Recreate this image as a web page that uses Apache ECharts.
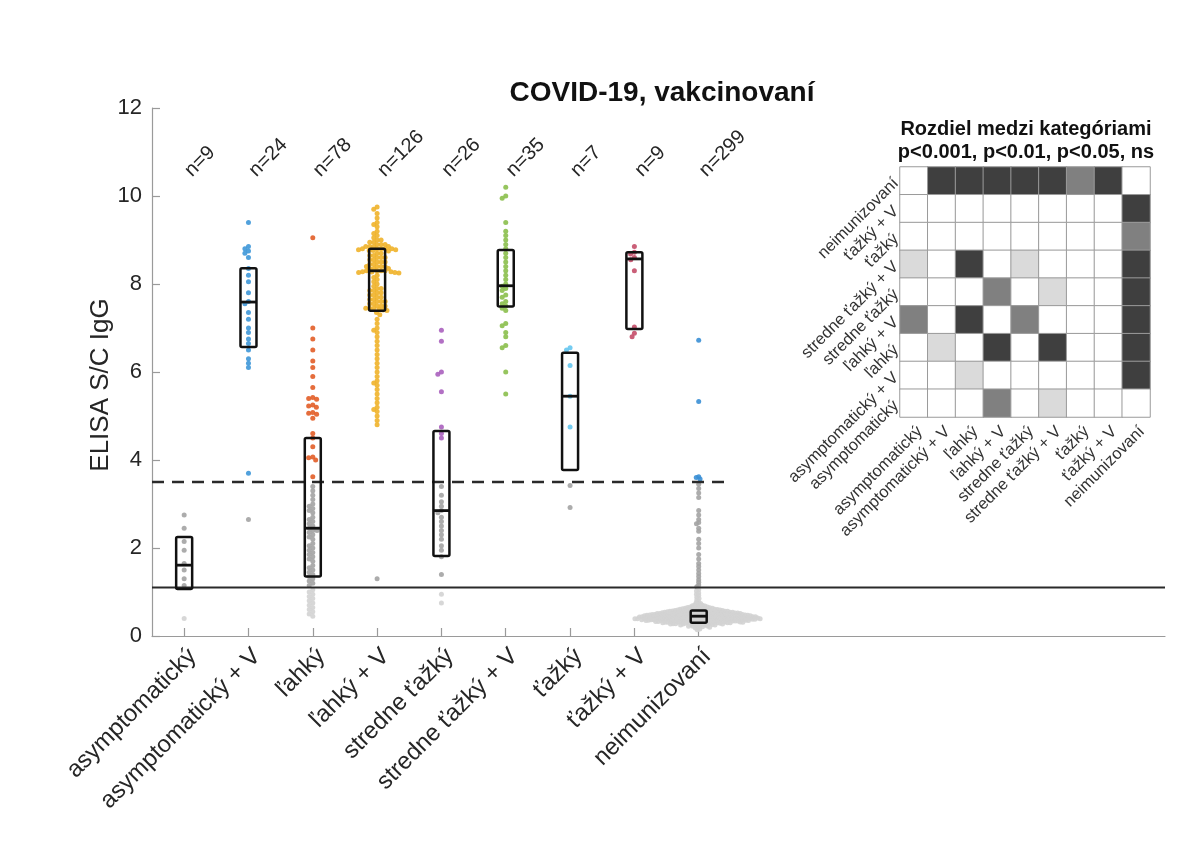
<!DOCTYPE html>
<html><head><meta charset="utf-8">
<script src="https://cdn.jsdelivr.net/npm/echarts@6/dist/echarts.min.js"></script>
<style>html,body{margin:0;padding:0;background:#fff}#c{width:1200px;height:850px}</style>
</head><body><div id="c"></div>
<script>
// ---------------- DATA ----------------
const categories = ['asymptomatický','asymptomatický + V','ľahký','ľahký + V','stredne ťažký','stredne ťažký + V','ťažký','ťažký + V','neimunizovaní'];
const nLabels = ['n=9','n=24','n=78','n=126','n=26','n=35','n=7','n=9','n=299'];
const yTicks = [0, 2, 4, 6, 8, 10, 12];
const cutoffHigh = 3.5;
const cutoffLow = 1.1;

const valsAsym = [2.75, 2.45, 2.15, 1.95, 1.65, 1.5, 1.3, 1.15, 0.4];
const valsAsymV = [9.4, 8.85, 8.8, 8.75, 8.7, 8.6, 8.35, 8.2, 8.05, 7.8, 7.6, 7.55, 7.35, 7.2, 7.0, 6.9, 6.75, 6.65, 6.5, 6.3, 6.2, 6.1, 3.7, 2.65];
const valsMild = [9.05, 7.0, 6.75, 6.5, 6.25, 6.1, 5.9, 5.65, 5.42, 5.4, 5.38, 5.25, 5.23, 5.2, 5.08, 5.06, 5.04, 4.95, 4.6, 4.5, 4.3, 4.07, 4.05, 4.0, 3.62,
  3.4, 3.3, 3.2, 3.1, 3.0, 2.95, 2.9, 2.85, 2.8, 2.7, 2.65, 2.6, 2.55, 2.5, 2.45, 2.4, 2.4, 2.35, 2.3, 2.25,
  2.2, 2.1, 2.05, 2.0, 1.95, 1.9, 1.85, 1.8, 1.75, 1.7, 1.6, 1.55, 1.5, 1.45, 1.4, 1.35, 1.3, 1.25, 1.2, 1.15,
  1.05, 1.0, 0.95, 0.9, 0.85, 0.8, 0.75, 0.7, 0.65, 0.6, 0.55, 0.5, 0.45];
const valsMildV = [9.75, 9.7, 9.6, 9.5, 9.4, 9.35, 9.3, 9.2, 9.15, 9.1, 9.05, 9.0, 9.0, 8.95, 8.95, 8.9, 8.9, 8.9, 8.85, 8.85, 8.85, 8.85, 8.8, 8.8, 8.8, 8.8, 8.8, 8.78, 8.78, 8.76, 8.76,
  8.75, 8.7, 8.7, 8.65, 8.65, 8.6, 8.6, 8.6, 8.55, 8.55, 8.5, 8.5, 8.5, 8.45, 8.45, 8.4, 8.4, 8.4, 8.4, 8.35, 8.35, 8.35, 8.3, 8.3, 8.3, 8.3, 8.28, 8.28, 8.27, 8.26, 8.26, 8.25,
  8.2, 8.15, 8.1, 8.05, 8.0, 7.95, 7.9, 7.9, 7.85, 7.85, 7.8, 7.8, 7.75, 7.75, 7.7, 7.7, 7.65, 7.65, 7.6, 7.6, 7.6, 7.55, 7.55, 7.5, 7.5, 7.5, 7.45, 7.45, 7.45, 7.42, 7.41, 7.4,
  7.35, 7.3, 7.2, 7.1, 7.0, 6.95, 6.9, 6.8, 6.7, 6.6, 6.5, 6.4, 6.3, 6.2, 6.1, 6.0, 5.9, 5.8, 5.75, 5.7, 5.6, 5.5, 5.4, 5.3, 5.2, 5.15, 5.1, 5.0, 4.9, 4.8, 1.3];
const valsMod = [6.95, 6.7, 6.0, 5.95, 5.55, 4.75, 4.6, 4.5, 3.4, 3.2, 3.05, 2.95, 2.85, 2.8, 2.7, 2.6, 2.5, 2.4, 2.3, 2.2, 2.05, 1.95, 1.8, 1.4, 0.95, 0.75];
const valsModV = [10.2, 10.0, 9.95, 9.4, 9.2, 9.1, 9.0, 8.9, 8.8, 8.7, 8.6, 8.5, 8.4, 8.3, 8.2, 8.1, 8.0, 7.95, 7.9, 7.85, 7.75, 7.7, 7.6, 7.55, 7.5, 7.45, 7.4, 7.1, 7.05, 6.9, 6.8, 6.6, 6.55, 6.0, 5.5];
const valsSev = [6.55, 6.5, 6.15, 5.45, 4.75, 3.42, 2.92];
const valsSevV = [8.85, 8.72, 8.68, 8.6, 8.55, 8.3, 7.02, 6.88, 6.8];
const valsUnimm = [6.72, 5.33, 3.62, 3.6, 3.57,
  3.45, 3.35, 3.25, 3.15, 2.85, 2.75, 2.65, 2.58, 2.55, 2.45, 2.38, 2.2, 2.1, 2.0, 1.85, 1.75, 1.65, 1.58, 1.5, 1.42, 1.35, 1.28, 1.22, 1.16, 1.12,
  1.05, 1.02, 0.98, 0.95, 0.92, 0.88, 0.85, 0.82,
  0.78, 0.76, 0.74, 0.72, 0.71, 0.7,
  0.69, 0.68, 0.68, 0.67, 0.66, 0.66, 0.65, 0.65,
  0.64, 0.64, 0.63, 0.63, 0.63, 0.62, 0.62, 0.62, 0.61, 0.61, 0.61, 0.6, 0.6, 0.6,
  0.59, 0.59, 0.59, 0.59, 0.58, 0.58, 0.58, 0.58, 0.57, 0.57, 0.57, 0.57, 0.57, 0.56, 0.56, 0.56, 0.56, 0.56, 0.55, 0.55, 0.55, 0.55,
  0.54, 0.54, 0.54, 0.54, 0.54, 0.54, 0.53, 0.53, 0.53, 0.53, 0.53, 0.53, 0.52, 0.52, 0.52, 0.52, 0.52, 0.52, 0.51, 0.51, 0.51, 0.51, 0.51, 0.51, 0.5, 0.5, 0.5, 0.5, 0.5, 0.5,
  0.49, 0.49, 0.49, 0.49, 0.49, 0.49, 0.49, 0.49, 0.48, 0.48, 0.48, 0.48, 0.48, 0.48, 0.48, 0.48, 0.47, 0.47, 0.47, 0.47, 0.47, 0.47, 0.47, 0.47, 0.46, 0.46, 0.46, 0.46, 0.46, 0.46, 0.46, 0.45, 0.45, 0.45, 0.45, 0.45, 0.45, 0.45,
  0.44, 0.44, 0.44, 0.44, 0.44, 0.44, 0.44, 0.44, 0.43, 0.43, 0.43, 0.43, 0.43, 0.43, 0.43, 0.43, 0.43, 0.42, 0.42, 0.42, 0.42, 0.42, 0.42, 0.42, 0.42, 0.41, 0.41, 0.41, 0.41, 0.41, 0.41, 0.41, 0.41, 0.41, 0.4, 0.4, 0.4, 0.4, 0.4, 0.4, 0.4, 0.4,
  0.39, 0.39, 0.39, 0.39, 0.39, 0.39, 0.39, 0.39, 0.39, 0.38, 0.38, 0.38, 0.38, 0.38, 0.38, 0.38, 0.38, 0.37, 0.37, 0.37, 0.37, 0.37, 0.37, 0.37, 0.37, 0.37, 0.36, 0.36, 0.36, 0.36, 0.36, 0.36, 0.36, 0.36, 0.35, 0.35, 0.35, 0.35, 0.35, 0.35, 0.35, 0.35,
  0.34, 0.34, 0.34, 0.34, 0.34, 0.34, 0.33, 0.33, 0.33, 0.33, 0.33, 0.33, 0.32, 0.32, 0.32, 0.32, 0.32, 0.32, 0.31, 0.31, 0.31, 0.31, 0.31, 0.31, 0.3, 0.3, 0.3, 0.3, 0.3, 0.3,
  0.29, 0.29, 0.29, 0.29, 0.28, 0.28, 0.28, 0.28, 0.27, 0.27, 0.27, 0.27, 0.26, 0.26, 0.26, 0.25, 0.25, 0.25,
  0.24, 0.23, 0.23, 0.22, 0.22, 0.21, 0.2, 0.2,
  0.18, 0.16, 0.14];
const groupValues = [valsAsym, valsAsymV, valsMild, valsMildV, valsMod, valsModV, valsSev, valsSevV, valsUnimm];

const boxQ1  = [1.07, 6.57, 1.35, 7.39, 1.82, 7.49, 3.77, 6.98, 0.30];
const boxMed = [1.61, 7.59, 2.45, 8.30, 2.85, 7.96, 5.45, 8.57, 0.45];
const boxQ3  = [2.25, 8.36, 4.50, 8.80, 4.66, 8.77, 6.44, 8.72, 0.58];

// significance matrix: rows top -> bottom (neimunizovaní ... asymptomatický), columns left -> right
// 0 = ns, 1 = p<0.05, 2 = p<0.01, 3 = p<0.001
const sigRows = [
  [0,3,3,3,3,3,2,3,0],
  [0,0,0,0,0,0,0,0,3],
  [0,0,0,0,0,0,0,0,2],
  [1,0,3,0,1,0,0,0,3],
  [0,0,0,2,0,1,0,0,3],
  [2,0,3,0,2,0,0,0,3],
  [0,1,0,3,0,3,0,0,3],
  [0,0,1,0,0,0,0,0,3],
  [0,0,0,2,0,1,0,0,0]
];
const mainTitle = 'COVID-19, vakcinovaní';
const heatTitle = 'Rozdiel medzi kategóriami\np<0.001, p<0.01, p<0.05, ns';
const yName = 'ELISA S/C IgG';

// ---------------- STYLE ----------------
const FONT = 'Liberation Sans, Arial, Helvetica, sans-serif';
const groupColors = ['#3e97d8','#3e97d8','#e25d27','#efb22a','#aa60be','#8bbf4c','#66c6f0','#c44e69','#3a8fd5'];
const grayMid = '#a3a3a3';
const grayLight = '#d3d3d3';
const heatColors = ['#ffffff','#dadada','#808080','#3f3f3f'];
const swarmDiam = [4.2,4.2,4.2,4.0,4.2,4.2,4.2,4.2,2.6];
const nLabelY = 10.35;

const heatData = [];
sigRows.forEach((row, r) => row.forEach((v, c) => heatData.push([c, 8 - r, v])));

const chart = echarts.init(document.getElementById('c'), null, {renderer: 'canvas'});
const axisGray = '#9a9a9a';
const txt = '#262626';
const ticks = [1,2,3,4,5,6,7,8,9];

const option = {
  backgroundColor: '#fff',
  animation: false,
  textStyle: {fontFamily: FONT},
  title: [
    {text: mainTitle, left: 657, top: 74, textAlign: 'center',
     textStyle: {fontSize: 28, fontWeight: 'bold', color: '#111', fontFamily: FONT}},
    {text: heatTitle, left: 1021, top: 113, textAlign: 'center',
     textStyle: {fontSize: 20, fontWeight: 'bold', color: '#111', lineHeight: 23, fontFamily: FONT}}
  ],
  graphic: [
    {type: 'text', x: 101, y: 385, rotation: Math.PI / 2,
     style: {text: yName, fontSize: 26, fill: txt, fontFamily: FONT, align: 'center', verticalAlign: 'middle'}}
  ],
  grid: [
    {left: 152, right: 35, top: 108, bottom: 214},
    {left: 900, width: 250, top: 167, height: 250}
  ],
  visualMap: {show: false, type: 'piecewise', seriesIndex: 5, dimension: 2,
    pieces: heatColors.map((c, i) => ({value: i, color: c}))},
  xAxis: [
    {gridIndex: 0, type: 'value', min: 0.5, max: 16.25,
     axisLine: {show: true, lineStyle: {color: axisGray, width: 1.2}},
     splitLine: {show: false},
     axisTick: {show: true, inside: true, length: 8, customValues: ticks, lineStyle: {color: axisGray, width: 1.2}},
     axisLabel: {customValues: ticks, formatter: v => categories[Math.round(v) - 1] || '',
       rotate: 45, fontSize: 24, color: txt, margin: 8, fontFamily: FONT, align: 'right', verticalAlign: 'top'}},
    {gridIndex: 1, type: 'category', data: categories,
     axisLine: {show: false}, axisTick: {show: false}, splitLine: {show: false},
     axisLabel: {rotate: 45, fontSize: 16.5, color: '#333', margin: 6, interval: 0, fontFamily: FONT, align: 'right', verticalAlign: 'top'}}
  ],
  yAxis: [
    {gridIndex: 0, type: 'value', min: 0, max: 12, interval: 2,
     axisLine: {show: true, lineStyle: {color: axisGray, width: 1.2}},
     splitLine: {show: false},
     axisTick: {show: true, inside: true, length: 8, lineStyle: {color: axisGray, width: 1.2}},
     axisLabel: {fontSize: 22, color: txt, margin: 10, fontFamily: FONT}},
    {gridIndex: 1, type: 'category', data: categories,
     axisLine: {show: false}, axisTick: {show: false}, splitLine: {show: false},
     axisLabel: {rotate: 45, fontSize: 16.5, color: '#333', margin: 4, interval: 0, fontFamily: FONT}}
  ],
  series: [
    {type: 'scatter', id: 'pts', xAxisIndex: 0, yAxisIndex: 0, symbolSize: 5, silent: true, z: 2, data: []},
    {type: 'custom', xAxisIndex: 0, yAxisIndex: 0, z: 4, silent: true,
     data: boxQ1.map((q, i) => [i + 1, q, boxMed[i], boxQ3[i]]),
     renderItem: (params, api) => {
       const x = api.value(0);
       const a = api.coord([x, api.value(1)]);
       const m = api.coord([x, api.value(2)]);
       const b = api.coord([x, api.value(3)]);
       const hw = 8;
       return {type: 'group', children: [
         {type: 'rect', shape: {x: a[0] - hw, y: b[1], width: 2 * hw, height: a[1] - b[1], r: 1.5},
          style: {fill: 'none', stroke: '#111', lineWidth: 2.5}},
         {type: 'line', shape: {x1: m[0] - hw, y1: m[1], x2: m[0] + hw, y2: m[1]},
          style: {stroke: '#111', lineWidth: 2.8}}
       ]};
     }},
    {type: 'line', xAxisIndex: 0, yAxisIndex: 0, z: 3, silent: true, symbol: 'none',
     data: [[0.5, cutoffHigh], [9.5, cutoffHigh]],
     lineStyle: {color: '#2a2a2a', width: 2.4, type: [12, 8]}},
    {type: 'line', xAxisIndex: 0, yAxisIndex: 0, z: 3, silent: true, symbol: 'none',
     data: [[0.5, cutoffLow], [16.25, cutoffLow]],
     lineStyle: {color: '#2a2a2a', width: 2}},
    {type: 'custom', xAxisIndex: 0, yAxisIndex: 0, z: 5, silent: true,
     data: nLabels.map((t, i) => [i + 1, nLabelY]),
     renderItem: (params, api) => {
       const p = api.coord([api.value(0), api.value(1)]);
       return {type: 'text', x: p[0] + 11, y: p[1], rotation: Math.PI / 4,
         style: {text: nLabels[params.dataIndex], fontSize: 20, fill: txt, fontFamily: FONT,
                 align: 'left', verticalAlign: 'bottom'}};
     }},
    {type: 'heatmap', xAxisIndex: 1, yAxisIndex: 1, data: heatData, silent: true,
     itemStyle: {borderColor: '#9a9a9a', borderWidth: 1}}
  ]
};
chart.setOption(option);

// beeswarm layout in pixel space using the chart's own scales
function swarmOffsets(pys, D) {
  const order = pys.map((_, i) => i).sort((a, b) => pys[a] - pys[b]);
  const placed = [];
  const off = new Array(pys.length).fill(0);
  for (const i of order) {
    const y = pys[i];
    const iv = [];
    for (const p of placed) {
      const dy = Math.abs(p.y - y);
      if (dy < D) { const w = Math.sqrt(D * D - dy * dy); iv.push([p.x - w, p.x + w]); }
    }
    const cands = [0];
    iv.forEach(([a, b]) => cands.push(a, b));
    cands.sort((a, b) => Math.abs(a) - Math.abs(b) || a - b);
    let best = 0;
    for (const c of cands) {
      if (iv.every(([a, b]) => c <= a + 1e-6 || c >= b - 1e-6)) { best = c; break; }
    }
    placed.push({x: best, y});
    off[i] = best;
  }
  return off;
}
const p0 = chart.convertToPixel({xAxisIndex: 0, yAxisIndex: 0}, [1, 0]);
const p1 = chart.convertToPixel({xAxisIndex: 0, yAxisIndex: 0}, [2, 0]);
const pxPerX = p1[0] - p0[0];
const pts = [];
groupValues.forEach((vals, g) => {
  const pys = vals.map(v => chart.convertToPixel({xAxisIndex: 0, yAxisIndex: 0}, [g + 1, v])[1]);
  const off = swarmOffsets(pys, swarmDiam[g]);
  vals.forEach((v, i) => {
    const col = v >= cutoffHigh ? groupColors[g] : (v >= cutoffLow ? grayMid : grayLight);
    pts.push({value: [g + 1 + off[i] / pxPerX, v], itemStyle: {color: col, opacity: 0.9}});
  });
});
chart.setOption({series: [{id: 'pts', data: pts}]});
</script>
</body></html>
